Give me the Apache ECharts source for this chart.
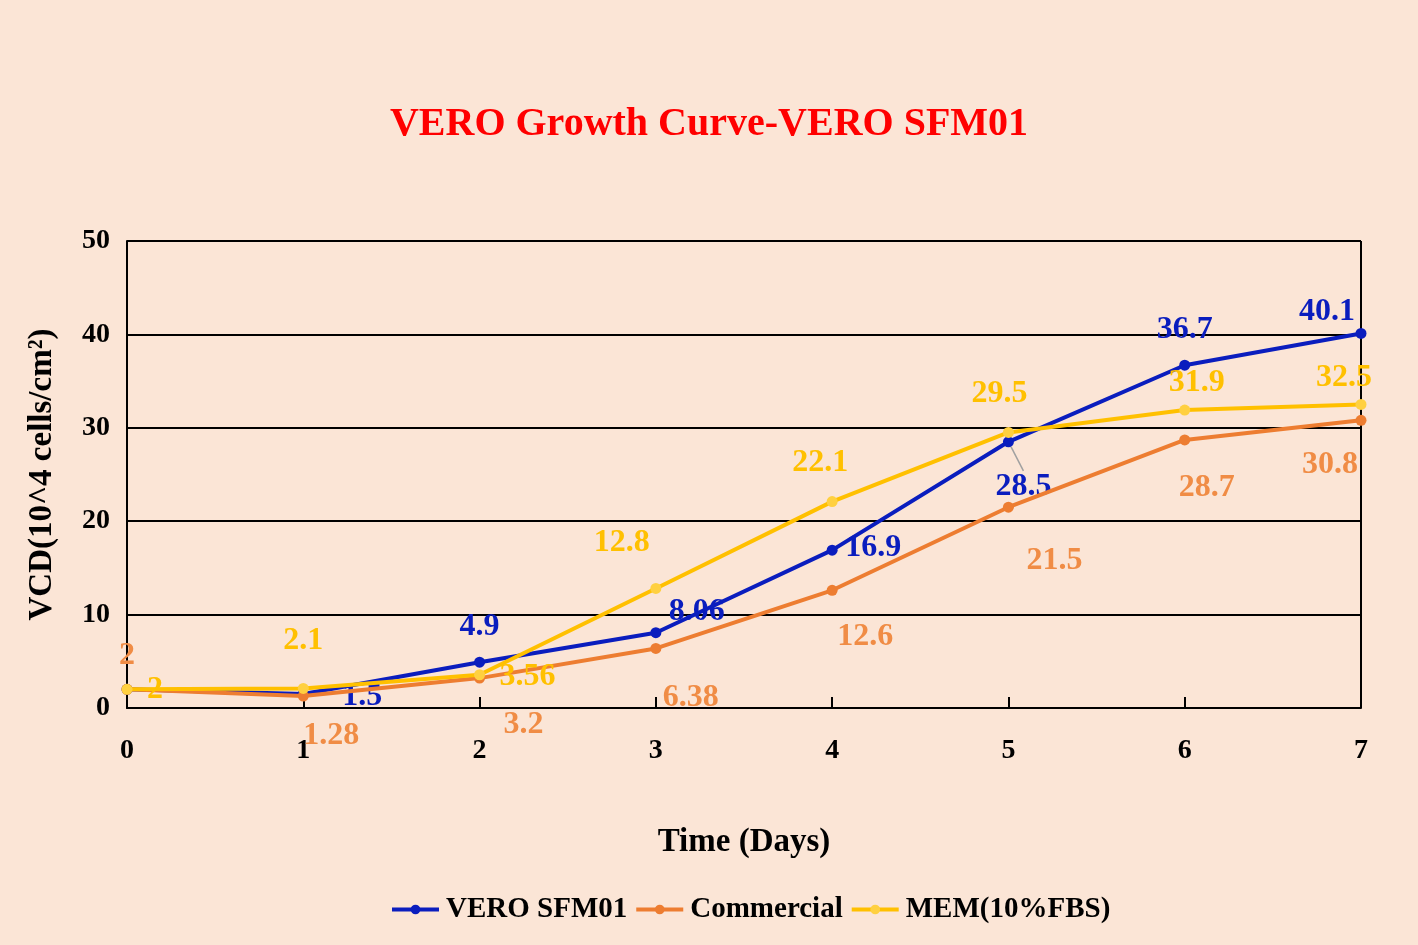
<!DOCTYPE html>
<html>
<head>
<meta charset="utf-8">
<script src="https://cdn.jsdelivr.net/npm/echarts@6/dist/echarts.min.js"></script>
<style>html,body{margin:0;padding:0;background:#FBE5D6;}#c{width:1418px;height:945px;}</style>
</head>
<body>
<div id="c"></div>
<script>
const days = [0, 1, 2, 3, 4, 5, 6, 7];
const veroSFM01 = [2, 1.5, 4.9, 8.06, 16.9, 28.5, 36.7, 40.1];
const commercial = [2, 1.28, 3.2, 6.38, 12.6, 21.5, 28.7, 30.8];
const mem10FBS = [2, 2.1, 3.56, 12.8, 22.1, 29.5, 31.9, 32.5];
const seriesNames = ['VERO SFM01', 'Commercial', 'MEM(10%FBS)'];
const yTicks = [0, 10, 20, 30, 40, 50];

// label offsets (dx, dy) from each point, per series
const labelOffsets = [
  [[28,2],[59,3],[0,-35],[41,-21],[41,-2],[15,45],[0,-35],[-34,-22]],
  [[0,-34],[28,40],[44,47],[35,49],[33,46],[46,54],[22,48],[-31,44]],
  [[28,0],[0,-48],[48,2],[-34,-46],[-12,-39],[-9,-39],[12,-27],[-17,-27]]
];
const leaderLine = [[5], [], []]; // points whose label has a leader line
const hiddenLabel = [[0], [], []]; // labels covered in the original
const lineColors = ['#0A1DBE', '#ED7D31', '#FFC000'];
const labelColors = ['#0A1DBE', '#F08C45', '#FFC000'];
const symbolColors = ['#0A1DBE', '#ED7D31', '#FFD040'];
const serif = '"Liberation Serif", "Times New Roman", serif';

const chart = echarts.init(document.getElementById('c'));
const allData = [veroSFM01, commercial, mem10FBS];
const series = [0,1,2].map(s => ({
  name: seriesNames[s],
  type: 'line',
  z: 2 + s,
  data: allData[s].map((v, i) => ({
    value: [days[i], v],
    label: { show: !hiddenLabel[s].includes(i) },
    labelLine: { show: leaderLine[s].includes(i) }
  })),
  symbol: 'circle',
  symbolSize: 11,
  lineStyle: { color: lineColors[s], width: 4 },
  itemStyle: { color: symbolColors[s] },
  label: {
    show: true, position: 'inside',
    color: labelColors[s], fontFamily: serif, fontWeight: 'bold', fontSize: 32,
    formatter: p => String(p.value[1])
  },
  labelLine: { show: false, lineStyle: { color: '#A0A0A0', width: 1.5 }, showAbove: true },
  labelLayout: p => {
    const o = labelOffsets[s][p.dataIndex];
    return { dx: o[0], dy: o[1] };
  }
}));

chart.setOption({
  backgroundColor: '#FBE5D6',
  animation: false,
  title: {
    text: 'VERO Growth Curve-VERO SFM01',
    left: 'center', top: 100,
    textStyle: { color: '#FF0000', fontFamily: serif, fontWeight: 'bold', fontSize: 40 }
  },
  legend: {
    bottom: 16, left: 385,
    itemWidth: 47, itemHeight: 12, itemGap: 7,
    lineStyle: { width: 4 },
    textStyle: { fontFamily: serif, fontWeight: 'bold', fontSize: 29, color: '#000', padding: [0, 0, 0, 2] },
    data: seriesNames
  },
  grid: { left: 127, right: 57, top: 241, bottom: 237, containLabel: false },
  xAxis: {
    type: 'value', min: 0, max: 7, interval: 1,
    name: 'Time (Days)', nameLocation: 'middle', nameGap: 118,
    nameTextStyle: { fontFamily: serif, fontWeight: 'bold', fontSize: 33, color: '#000' },
    axisLine: { show: true, lineStyle: { color: '#000', width: 2 } },
    axisTick: { show: true, inside: true, length: 11, lineStyle: { color: '#000', width: 2 } },
    axisLabel: { fontFamily: serif, fontWeight: 'bold', fontSize: 28, color: '#000', margin: 29 },
    splitLine: { show: false }
  },
  yAxis: {
    type: 'value', min: 0, max: 50, interval: 10,
    name: 'VCD(10^4 cells/cm²)', nameLocation: 'middle', nameGap: 68,
    nameTextStyle: { fontFamily: serif, fontWeight: 'bold', fontSize: 33, color: '#000' },
    axisLine: { show: true, lineStyle: { color: '#000', width: 2 } },
    axisTick: { show: false },
    axisLabel: { fontFamily: serif, fontWeight: 'bold', fontSize: 28, color: '#000', margin: 17,
      formatter: v => yTicks.includes(v) ? String(v) : '' },
    splitLine: { show: true, lineStyle: { color: '#000', width: 2 } }
  },
  graphic: [],
  series: series
});

// right border line of plot area
const pr = chart.convertToPixel({ xAxisIndex: 0, yAxisIndex: 0 }, [7, 0]);
const pt = chart.convertToPixel({ xAxisIndex: 0, yAxisIndex: 0 }, [7, 50]);
chart.setOption({ graphic: [{ type: 'line', z: 1, shape: { x1: pr[0], y1: pr[1], x2: pt[0], y2: pt[1] }, style: { stroke: '#000', lineWidth: 2 } }] });
</script>
</body>
</html>
